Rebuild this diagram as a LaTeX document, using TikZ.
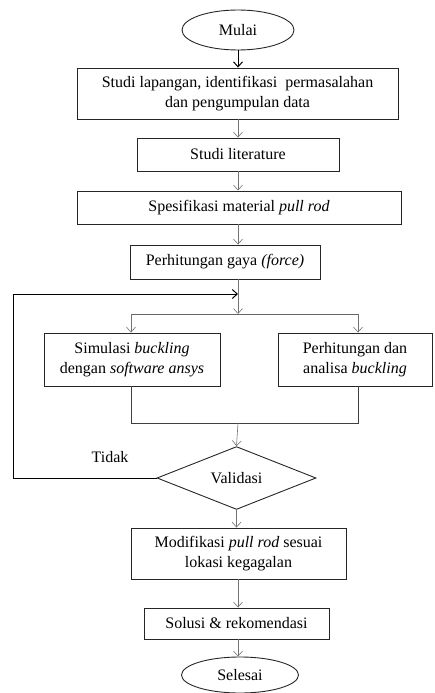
\documentclass[tikz,border=0pt]{standalone}
\usepackage{fontspec}
\setmainfont{Liberation Serif}
\usetikzlibrary{shapes.geometric,arrows.meta}
\begin{document}
\begin{tikzpicture}[x=1pt,y=-1pt,
 base/.style={draw=black!85, line width=0.9pt, font=\fontsize{16}{19.5}\selectfont, align=center, inner sep=0pt},
 box/.style={base, rectangle},
 term/.style={base, ellipse},
 dec/.style={base, diamond},
 conn/.style={draw=black!55, line width=0.6pt, -{Straight Barb[length=5pt,width=9pt]}},
 dark/.style={draw=black, line width=1pt, -{Straight Barb[length=5pt,width=9pt]}},
 plain/.style={draw=black!75, line width=0.9pt}
]
\useasboundingbox (0,0) rectangle (434,693);
\node[term, minimum width=112pt, minimum height=40pt] (mulai) at (238,30) {Mulai};
\node[box, minimum width=321pt, minimum height=51pt] (b1) at (237.5,93.5) {Studi lapangan, identifikasi\ \ permasalahan\\dan pengumpulan data};
\node[box, minimum width=202pt, minimum height=33pt] (b2) at (238,154.5) {Studi literature};
\node[box, minimum width=324pt, minimum height=33pt] (b3) at (239,207.5) {Spesifikasi material \textit{pull rod}};
\node[box, minimum width=190pt, minimum height=34pt] (b4) at (225,262) {Perhitungan gaya \textit{(force)}};
\node[box, minimum width=176pt, minimum height=53pt] (b5) at (132,359.5) {Simulasi \textit{buckling}\\dengan \textit{software ansys}};
\node[box, minimum width=154pt, minimum height=53pt] (b6) at (355,359.5) {Perhitungan dan\\analisa \textit{buckling}};
\node[dec, minimum width=159pt, minimum height=58pt] (val) at (236.5,478) {Validasi};
\node[box, minimum width=215pt, minimum height=51pt] (b7) at (238.5,553.5) {Modifikasi \textit{pull rod} sesuai\\lokasi kegagalan};
\node[box, minimum width=185pt, minimum height=31pt] (b8) at (236.5,623.5) {Solusi \& rekomendasi};
\node[term, minimum width=117pt, minimum height=36pt] (selesai) at (240,675) {Selesai};
\node[font=\fontsize{16}{19.5}\selectfont, inner sep=0pt] (tidak) at (110,457) {Tidak};

\coordinate (sp) at (238,0);
\coordinate (split) at (238,314);
\coordinate (sl) at (131,314);
\coordinate (sr) at (358,314);
\coordinate (merge) at (238,423);
\coordinate (loopx) at (13,0);
\coordinate (loopy) at (238,294);

\draw[dark] (mulai.south -| sp) -- (b1.north -| sp);
\draw[conn] (b1.south -| sp) -- (b2.north -| sp);
\draw[conn] (b2.south -| sp) -- (b3.north -| sp);
\draw[conn] (b3.south -| sp) -- (b4.north -| sp);
\draw[conn] (b4.south -| sp) -- (split);
\draw[plain, draw=black!60, line width=0.7pt] (sl) -- (sr);
\draw[conn] (sl) -- (sl |- b5.north);
\draw[conn] (sr) -- (sr |- b6.north);
\draw[plain] (b5.south -| sl) -- (sl |- merge) -- (sr |- merge) -- (b6.south -| sr);
\draw[conn] (merge) -- (val.north);
\draw[dark] (val.west) -- (loopx |- val.west) -- (loopx |- loopy) -- (loopy);
\draw[conn] (val.south) -- (b7.north -| val.south);
\draw[conn] (b7.south -| sp) -- (b8.north -| sp);
\draw[conn] (b8.south -| sp) -- (selesai.north -| sp);
\end{tikzpicture}
\end{document}
